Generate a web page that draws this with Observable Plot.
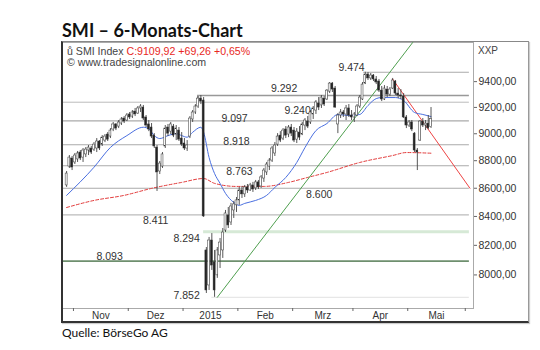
<!DOCTYPE html>
<html><head><meta charset="utf-8">
<script src="https://cdn.jsdelivr.net/npm/d3@7"></script>
<script src="https://cdn.jsdelivr.net/npm/@observablehq/plot@0.6"></script>
<style>
body{margin:0;background:#fff;}
#wrap{position:relative;width:540px;height:350px;overflow:hidden;font-family:"Liberation Sans",Arial,sans-serif;}
#chart{position:absolute;left:0;top:0;z-index:1;}
.ov{position:absolute;z-index:2;white-space:nowrap;}
#title{left:62px;top:21px;font:bold 18px Lato,"Open Sans",sans-serif;line-height:18px;color:#111;}
#caption{left:62px;top:326px;font:12px Lato,sans-serif;line-height:13px;color:#111;}
#box{position:absolute;z-index:2;left:61px;top:41px;width:465px;height:279px;border-left:2px solid #333;border-bottom:2px solid #333;border-top:1px solid #888;border-right:1px solid #999;box-shadow:1px 1px 1px #ccc;}
#hdr{left:67px;top:46px;font-size:10.6px;line-height:11px;color:#444;}
#hdr .r{color:#e8281e;}
#xxp{left:478px;top:45px;font-size:10px;line-height:11px;color:#444;}
</style></head>
<body>
<div id="wrap">
  <div id="chart"></div>
  <div id="box"></div>
  <div class="ov" id="title">SMI – 6-Monats-Chart</div>
  <div class="ov" id="hdr">ů SMI Index <span class="r">C:9109,92 +69,26 +0,65%</span><br>© www.tradesignalonline.com</div>
  <div class="ov" id="xxp">XXP</div>
  <div class="ov" id="caption">Quelle: BörseGo AG</div>
</div>
<script>
// ---- data: daily candles (trading-day index 0..133) ----
const opens = [8620,8757,8816,8787,8809,8860,8823,8846,8875,8890,8882,8890,8942,8919,8949,8994,8979,9032,9070,9054,
9077,9115,9100,9146,9130,9168,9153,9192,9199,9123,9070,9047,8986,8897,8721,8757,8905,9047,9016,9054,
8994,9024,8964,8927,8890,8979,9108,9161,9207,9268,9253,8165,7930,8233,8084,7997,8131,8165,8302,8407,
8358,8442,8478,8513,8584,8556,8606,8584,8620,8599,8642,8613,8670,8714,8757,8801,8853,8919,8986,8964,
9032,8994,9047,9024,8956,9009,8994,9062,9092,9085,9146,9176,9230,9215,9268,9261,9322,9385,9346,9070,
9138,9161,9146,9192,9138,9123,9138,9207,9261,9385,9456,9425,9448,9417,9401,9330,9261,9338,9299,9346,
9401,9307,9292,9284,9123,9062,9085,9001,8875,8949,9092,9062,9077,9050];
const highs = [8721,8838,8831,8853,8868,8875,8890,8897,8912,8905,8934,8964,8949,8986,8994,9009,9039,9085,9077,9100,
9123,9130,9153,9161,9176,9192,9207,9222,9215,9138,9100,9077,9001,8912,8794,8860,9062,9070,9085,9070,
9062,9047,9009,8964,8949,9130,9176,9222,9284,9292,9276,8185,8254,8281,8165,8185,8247,8316,8442,8463,
8492,8506,8534,8606,8613,8620,8627,8635,8642,8656,8656,8692,8743,8787,8816,8905,8934,9001,9016,9039,
9054,9062,9070,9047,9039,9054,9085,9115,9130,9176,9207,9253,9276,9292,9284,9338,9393,9393,9362,9153,
9184,9176,9215,9222,9176,9161,9222,9292,9393,9474,9472,9464,9456,9440,9417,9362,9369,9362,9354,9425,
9409,9346,9338,9307,9138,9100,9100,9009,8890,9100,9115,9100,9138,9199];
const lows = [8606,8743,8728,8772,8787,8801,8787,8823,8838,8846,8868,8860,8875,8905,8934,8942,8964,9016,9024,9039,
9062,9077,9092,9108,9115,9130,9146,9161,9100,9047,9016,8964,8890,8577,8699,8743,8890,8979,8994,8971,
8949,8942,8905,8875,8868,8964,9085,9146,9192,9222,8393,7877,7897,8030,7852,7977,8043,8111,8288,8316,
8337,8386,8428,8478,8527,8534,8563,8577,8570,8584,8591,8599,8642,8692,8728,8787,8831,8905,8934,8949,
8964,8971,8979,8934,8927,8949,8986,9024,9039,9070,9108,9146,9176,9192,9207,9253,9307,9315,9192,9001,
9115,9123,9100,9123,9100,9085,9130,9192,9253,9377,9409,9409,9401,9377,9315,9245,9253,9276,9284,9338,
9292,9268,9261,9115,9039,9047,9016,8860,8728,8942,9047,9024,9030,9040];
const closes = [8706,8823,8750,8838,8853,8816,8875,8882,8897,8860,8919,8942,8890,8971,8979,8956,9024,9070,9039,9085,
9108,9092,9138,9123,9161,9146,9192,9207,9115,9062,9032,8979,8905,8714,8779,8846,9039,9001,9070,8986,
9039,8956,8919,8890,8912,9115,9161,9207,9268,9245,8400,7897,8233,8063,7897,8165,8219,8288,8421,8337,
8470,8485,8513,8584,8556,8606,8584,8620,8591,8642,8606,8678,8728,8772,8801,8890,8912,8979,8949,9024,
8986,9047,9001,8949,9016,8971,9070,9100,9054,9161,9192,9238,9199,9276,9222,9330,9385,9338,9199,9138,
9161,9146,9192,9138,9123,9146,9207,9276,9377,9456,9425,9448,9417,9393,9330,9261,9346,9299,9338,9409,
9307,9292,9284,9123,9062,9085,9032,8875,8860,9092,9062,9077,9041,9110];

// moving averages: [day index, value]
const maFastIdx = [0,10,16,22,28,30,32,34,37,40,42,44,46,49,50,52,54,56,58,61,63,65,69,73,76,80,84,87,91,95,99,103,107,110,113,115,120,123,127,130,133];
const maFastVal = [8549,8752,8898,8986,9049,9037,8986,8964,8986,9001,8986,8974,9011,9049,9011,8823,8706,8635,8563,8499,8478,8492,8513,8549,8606,8678,8787,8897,9024,9077,9146,9138,9146,9215,9268,9276,9276,9253,9161,9146,9130];
const maSlowIdx = [0,10,21,31,42,50,54,62,72,81,88,95,107,119,124,133];
const maSlowVal = [8463,8513,8549,8599,8642,8670,8635,8613,8613,8642,8678,8714,8787,8838,8860,8855];

// support / resistance levels
const levelValues = [9474,9292,9240,9097,8918,8763,8600,8411,8294,8093,7852];
// trend lines: [day index, value] pairs
const upTrend = [[55,7852],[126.3,9712]];
const downTrend = [[119,9420],[147.2,8600]];

// axes
const yTicks = [8000,8200,8400,8600,8800,9000,9200,9400];
const monthStarts = [2.5,22.5,42.5,62.5,82.5,104.5,124.5,145.5];
const monthMids = [12.5,32.5,52.5,72.5,93.5,114.5,135];
const monthNames = ["Nov","Dez","2015","Feb","Mrz","Apr","Mai"];

// ---- layout (not data) ----
const levelFrom = [108.4,47.8,-1.5,-1.5,-1.5,-1.5,-1.5,-1.5,50,-1.5,53];
const levelTo = 147;
const levelLabelAt = [104,79.4,84.3,61.3,62,63.1,92.2,32.5,43.8,15.7,43.8];
const levelLabelDy = [-5,-7,8.5,-2,-3,6,6.5,5.6,7,-4.6,-2];
const levelStroke = ["#aaa","#999","#bbb","#aaa","#aaa","#aaa","#aaa","#bbb","#d6e9d6","#6e8f6e","#e2e2e2"];
const levelWidth = [1.2,1.6,1,1.2,1.2,1.2,1.2,1.2,3,1.8,1];

const bars = opens.map((o,i)=>({i,o,h:highs[i],l:lows[i],c:closes[i]}));
const maFast = maFastIdx.map((i,k)=>({i,v:maFastVal[k]}));
const maSlow = maSlowIdx.map((i,k)=>({i,v:maSlowVal[k]}));
const fmtLevel = v => `${Math.floor(v/1000)}.${String(v%1000).padStart(3,"0")}`;
const levels = levelValues.map((v,k)=>({v,from:levelFrom[k],to:levelTo,at:levelLabelAt[k],dy:levelLabelDy[k],stroke:levelStroke[k],w:levelWidth[k],label:fmtLevel(v)}));
const monthLabel = new Map(monthMids.map((m,k)=>[m,monthNames[k]]));

const plot = Plot.plot({
  width:540, height:350,
  marginLeft:62, marginRight:67, marginTop:42, marginBottom:42,
  x:{type:"linear", domain:[-1.5,148.5]},
  y:{type:"log", domain:[7779,9712]},
  style:{fontFamily:"'Liberation Sans', Arial, sans-serif", fontSize:"10px", color:"#333", background:"#fff"},
  marks:[
    Plot.frame({stroke:"#aaa"}),
    ...levels.map(L => Plot.ruleY([L], {y:"v", x1:"from", x2:"to", stroke:L.stroke, strokeWidth:L.w})),
    Plot.ruleX([levels[1]], {x:"from", y1:levels[2].v, y2:"v", stroke:"#999", strokeWidth:1.2}),
    ...levels.map(L => Plot.text([L], {x:"at", y:"v", text:"label", dy:L.dy, fill:"#333", fontSize:10.5})),
    Plot.line(maSlow, {x:"i", y:"v", stroke:"#e23b3b", strokeWidth:1, strokeDasharray:"3,2", curve:"monotone-x"}),
    Plot.line(upTrend, {x:d=>d[0], y:d=>d[1], stroke:"#4f9f4f", strokeWidth:1, clip:true}),
    Plot.line(downTrend, {x:d=>d[0], y:d=>d[1], stroke:"#ee4444", strokeWidth:1, clip:true}),
    Plot.line(maFast, {x:"i", y:"v", stroke:"#4a6fe0", strokeWidth:1, curve:"monotone-x"}),
    Plot.ruleX(bars, {x:"i", y1:"l", y2:"h", stroke:"#444", strokeWidth:0.9}),
    Plot.rect(bars, {x1:d=>d.i-0.35, x2:d=>d.i+0.35, y1:d=>Math.min(d.o,d.c), y2:d=>Math.max(d.o,d.c),
      fill:d=>d.c>=d.o?"#fff":"#222", stroke:"#333", strokeWidth:0.5}),
    Plot.axisY({anchor:"right", ticks:yTicks, tickFormat:d=>d.toFixed(2).replace(".",","), tickSize:3, tickPadding:2, fontSize:10.5, stroke:"#666", fill:"#333"}),
    Plot.axisX({ticks:monthStarts, tickSize:3, tickFormat:()=>"", stroke:"#666"}),
    Plot.axisX({ticks:monthMids, tickSize:0, tickPadding:3, tickFormat:d=>monthLabel.get(d), fontSize:10, fill:"#333"})
  ]
});
document.getElementById("chart").appendChild(plot);
</script>
</body></html>
